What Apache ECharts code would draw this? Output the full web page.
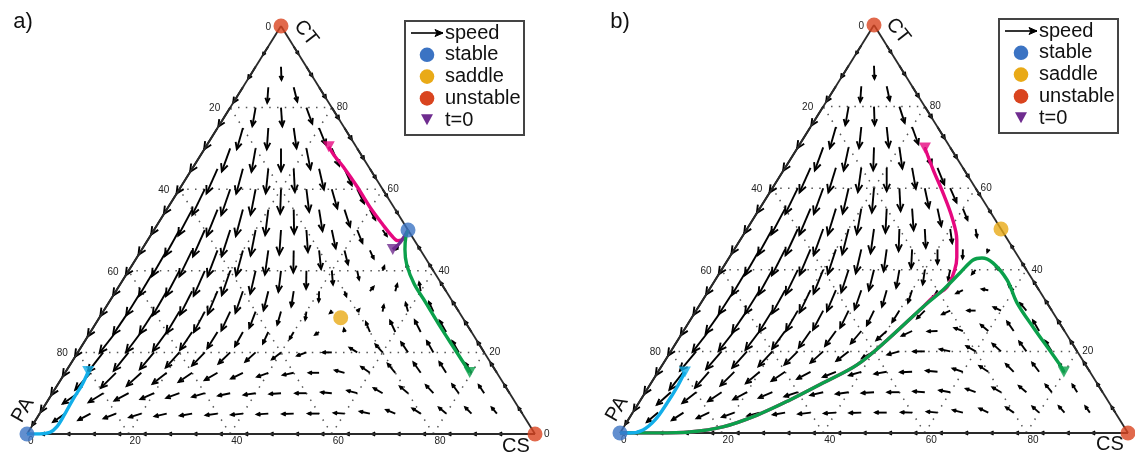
<!DOCTYPE html>
<html><head><meta charset="utf-8">
<script src="https://cdn.jsdelivr.net/npm/echarts/dist/echarts.min.js"></script>
<style>html,body{margin:0;padding:0;background:#fff}#c{width:1135px;height:455px}</style>
</head><body><div id="c"></div>
<script>
// ================= DATA =================
const gridLevels = [20, 40, 60, 80];
const tickLevels = [0, 20, 40, 60, 80];
// vector field: row r -> CT = 100-5r ; column j -> CS = 5j ; angle (deg, screen, ccw from east), speed
const angA = [
 [0],
 [238,302],
 [238,272,302],
 [238,266,284,302],
 [238,260,274,290,302],
 [238,254,266,278,292,302],
 [238,250,260,270,281,293,302],
 [238,246,255,264,273,283,294,302],
 [238,244,251,259,268,277,286,296,302],
 [238,242,248,255,263,271,279,288,298,302],
 [238,241,246,252,259,266,274,282,292,305,0],
 [238,240,244,249,255,262,269,276,284,295,57,122],
 [238,239,242,246,251,257,263,269,275,282,70,100,122],
 [238,238,240,243,247,251,256,261,268,290,50,75,100,122],
 [238,236,237,239,242,245,249,254,262,220,50,80,105,115,122],
 [238,232,233,234,236,238,241,245,240,215,100,112,115,117,120,122],
 [238,232,231,230,228,226,224,222,218,200,180,148,132,124,120,120,122],
 [238,228,225,222,218,214,210,206,200,192,180,165,145,130,125,122,122,122],
 [238,215,212,208,204,200,196,192,188,184,180,175,165,150,140,133,127,124,122],
 [238,215,208,202,197,193,190,188,186,184,182,180,176,168,158,148,140,135,130,122],
 [0,180,180,180,180,180,180,180,180,180,180,180,180,180,180,180,180,180,180,180,0]
];
const spdA = [
 [0],
 [2.5,2.2],
 [3.5,3.2,2.8],
 [4.5,3.8,3.6,3.2],
 [5.5,4.6,4.6,4.2,3.4],
 [6.2,5.4,5.2,5.0,4.4,3.4],
 [6.8,6.0,5.8,5.6,5.2,4.6,3.2],
 [7.2,6.6,6.3,6.0,5.7,5.2,4.4,2.8],
 [7.2,7.0,6.7,6.4,6.0,5.6,4.9,3.8,2.2],
 [7.2,7.2,7.0,6.7,6.3,5.9,5.3,4.4,2.8,1.3],
 [7.2,7.3,7.1,6.8,6.4,6.0,5.4,4.6,3.4,1.8,0],
 [7.2,7.3,7.1,6.8,6.4,6.0,5.4,4.6,3.5,2.2,1.2,1.2],
 [7.2,7.2,7.0,6.7,6.3,5.8,5.2,4.4,3.4,2.2,1.2,1.6,2.0],
 [7.2,7.0,6.8,6.5,6.1,5.6,4.8,3.8,2.5,1.3,1.4,1.8,2.2,2.6],
 [7.2,6.8,6.5,6.2,5.7,5.1,4.3,3.3,2.0,0.6,0.8,1.6,2.2,2.6,3.0],
 [7.2,6.5,6.2,5.8,5.3,4.7,4.0,3.1,2.0,1.2,0.8,2.6,3.0,3.2,3.2,3.2],
 [7.0,6.2,5.8,5.4,5.0,4.5,4.0,3.4,2.8,2.4,2.2,2.2,2.6,3.0,3.2,3.2,3.2],
 [6.5,5.6,5.2,4.8,4.4,4.0,3.6,3.2,2.9,2.7,2.5,2.4,2.6,2.9,3.1,3.1,2.8,3.0],
 [5.5,4.5,4.2,3.9,3.6,3.4,3.2,3.0,2.9,2.8,2.7,2.6,2.5,2.5,2.6,2.7,2.7,2.4,2.6],
 [3.5,3.6,3.4,3.2,3.1,3.0,3.0,2.9,2.9,2.8,2.8,2.7,2.6,2.5,2.4,2.4,2.3,2.2,2.0,1.8],
 [0,2.6,2.6,2.6,2.6,2.6,2.6,2.6,2.6,2.6,2.6,2.6,2.6,2.6,2.6,2.6,2.6,2.6,2.6,2.6,0]
];
const angB = [
 [0],
 [238,302],
 [238,272,302],
 [238,266,282,302],
 [238,260,272,288,302],
 [238,254,264,276,290,302],
 [238,250,258,268,278,291,302],
 [238,246,253,262,270,280,292,302],
 [238,244,250,257,265,273,282,294,302],
 [238,242,247,253,260,267,274,282,292,302],
 [238,241,245,250,256,262,268,273,278,280,0],
 [238,240,243,247,252,257,262,267,270,268,250,122],
 [238,239,241,244,248,252,256,260,262,258,230,160,122],
 [238,237,238,241,244,247,251,254,252,240,205,170,135,122],
 [238,235,236,238,240,242,244,244,238,225,205,180,155,130,122],
 [238,232,232,233,234,235,234,230,222,205,182,160,140,125,120,122],
 [238,230,229,228,227,225,222,218,210,195,180,168,150,138,126,122,122],
 [238,232,229,225,220,214,208,202,196,190,182,175,162,147,135,127,122,122],
 [238,222,218,214,208,203,198,193,188,184,180,176,170,160,150,140,130,122,122],
 [238,220,213,205,200,195,190,187,184,182,180,178,175,166,155,145,138,132,126,122],
 [0,180,180,180,180,180,180,180,180,180,180,180,180,180,180,180,180,180,180,180,0]
];
const spdB = [
 [0],
 [2.5,2.2],
 [3.5,3.2,2.8],
 [4.5,3.8,3.6,3.2],
 [5.5,4.6,4.5,4.2,3.4],
 [6.2,5.4,5.2,5.0,4.5,3.4],
 [6.8,6.0,5.8,5.6,5.2,4.6,3.2],
 [7.2,6.6,6.3,6.0,5.7,5.2,4.4,2.8],
 [7.2,7.0,6.7,6.4,6.0,5.6,4.9,3.8,2.2],
 [7.2,7.2,7.0,6.7,6.3,5.9,5.3,4.4,3.0,1.3],
 [7.2,7.3,7.1,6.8,6.4,6.0,5.4,4.6,3.5,2.0,0],
 [7.2,7.3,7.1,6.8,6.4,6.0,5.4,4.6,3.5,2.2,0.7,1.2],
 [7.2,7.2,7.0,6.7,6.3,5.8,5.2,4.5,3.6,2.5,1.4,1.2,2.0],
 [7.2,7.0,6.8,6.5,6.1,5.6,5.0,4.2,3.2,2.4,1.8,1.6,1.8,2.6],
 [7.2,6.8,6.5,6.2,5.8,5.3,4.7,4.0,3.3,2.7,2.2,2.0,2.0,2.4,3.0],
 [7.2,6.5,6.2,5.8,5.4,5.0,4.5,4.0,3.4,2.8,2.4,2.2,2.4,2.8,3.0,3.2],
 [7.0,6.2,5.8,5.4,5.0,4.6,4.2,3.8,3.4,3.0,2.8,2.6,2.6,2.8,3.0,3.0,3.2],
 [6.5,5.6,5.2,4.8,4.4,4.0,3.7,3.4,3.1,3.0,2.9,2.8,2.6,2.6,2.7,2.8,2.6,3.0],
 [5.5,4.6,4.3,4.0,3.8,3.6,3.4,3.2,3.1,3.0,2.9,2.8,2.7,2.5,2.4,2.4,2.4,2.2,2.6],
 [3.5,3.6,3.4,3.3,3.2,3.1,3.0,3.0,2.9,2.9,2.8,2.7,2.6,2.5,2.4,2.3,2.2,2.1,1.9,1.8],
 [0,2.6,2.6,2.6,2.6,2.6,2.6,2.6,2.6,2.6,2.6,2.6,2.6,2.6,2.6,2.6,2.6,2.6,2.6,2.6,0]
];
// trajectories: [CS %, CT %]  (PA = 100 - CS - CT)
const magentaA = [[24.2,70.4],[26.2,68.4],[29.5,65.5],[34.7,60.6],[39.6,55.7],[44.4,51.3],[47.5,48.6],[49.3,47.4],[50.2,48],[50,50]];
const purpleA  = [[49.4,45.2],[50,47],[50,50]];
const greenA   = [[79.6,15.1],[73.9,20.7],[68.2,26.3],[62.2,32.4],[57.8,36.8],[54,41.5],[51.8,45.2],[50.5,48.1],[50,50]];
const cyanA    = [[4.4,15.3],[4.8,12.1],[4.8,8.5],[5,4.8],[5,1.8],[4.3,0.4],[2.5,0],[0,0]];
const magentaB = [[25.1,69.85],[29.4,64.5],[34.2,58.8],[38.9,52.9],[42.65,47.3],[44.75,43.1],[45.9,39.95],[46.5,35.8],[45,33.3],[44.2,30.9],[41.2,22.8],[38.3,16.7],[33.8,12.25],[29.4,8.1],[24.8,4.4],[19.5,1.5],[13.6,0.25],[7.3,0],[0,0]];
const greenB   = [[79.9,14.95],[78.25,16.7],[68.3,26],[62.2,31.9],[57.45,37.5],[52.55,41.7],[49.8,42.9],[48.3,42.4],[47.3,39.2],[46.05,35.05],[44.2,30.9],[41.2,22.8],[38.3,16.7],[33.8,12.25],[29.4,8.1],[24.8,4.4],[19.5,1.5],[13.6,0.25],[7.3,0],[0,0]];
const cyanB    = [[5.3,14.95],[5.6,11.3],[5.6,7.35],[5.3,3.2],[4.15,0.75],[2,0],[0,0]];
// equilibria [CS, CT]
const stableA = [[0,0],[50,50]], saddleA = [[47.5,28.5]], unstableA = [[0,100],[100,0]];
const stableB = [[0,0]], saddleB = [[50,50]], unstableB = [[0,100],[100,0]];
const legendItems = ['speed','stable','saddle','unstable','t=0'];

// ================= BUILD =================
const C = {blue:'#3B73C3', yellow:'#E9AA17', red:'#D9441F', purple:'#6F2C8F',
           magenta:'#E6087F', green:'#0BA04B', cyan:'#12AEE9'};
const FONT = '"Liberation Sans", Arial, Helvetica, sans-serif';
function tern(cs, ct){ return [cs + ct/2, ct]; }

function fieldData(ang, spd){
  const out = [];
  for (let r = 0; r < ang.length; r++) for (let j = 0; j < ang[r].length; j++) {
    if (!spd[r][j]) continue;
    const p = tern(5*j, 100 - 5*r);
    out.push([p[0], p[1], ang[r][j], spd[r][j]]);
  }
  return out;
}
function arrowItem(params, api){
  const base = api.coord([api.value(0), api.value(1)]);
  const unit = api.size([1,1]);
  const a = api.value(2) * Math.PI / 180;
  const L = api.value(3) * unit[1];
  const tip = [base[0] + L*Math.cos(a), base[1] - L*Math.sin(a)];
  const h = Math.max(3.5, Math.min(8.5, 0.34*L));
  const w = 25*Math.PI/180, back = a + Math.PI;
  const w1 = [tip[0] + h*Math.cos(back+w), tip[1] - h*Math.sin(back+w)];
  const w2 = [tip[0] + h*Math.cos(back-w), tip[1] - h*Math.sin(back-w)];
  return {type:'group', children:[
    {type:'line', shape:{x1:base[0],y1:base[1],x2:tip[0],y2:tip[1]}, style:{stroke:'#000', lineWidth:1.9}},
    {type:'polyline', shape:{points:[w1,tip,w2]}, style:{stroke:'#000', lineWidth:1.9, fill:null, lineJoin:'miter'}}
  ]};
}
function segItem(style){
  return function(params, api){
    const a = api.coord([api.value(0), api.value(1)]), b = api.coord([api.value(2), api.value(3)]);
    return {type:'line', shape:{x1:a[0],y1:a[1],x2:b[0],y2:b[1]}, style:style};
  };
}
function tickItem(params, api){
  const p = api.coord([api.value(0), api.value(1)]);
  const side = api.value(3), k = api.value(2);
  let x = p[0], y = p[1], align = 'left', va = 'middle';
  if (side === 0) { x -= 10; align = 'right'; y += 1; }
  else if (side === 1) { x += (k === 0 ? 9 : 5); }
  else { y += 2; va = 'top'; x += 1; }
  return {type:'text', x:x, y:y, style:{text:String(k), font:'10px ' + FONT, fill:'#222',
    align:align, verticalAlign:va, textAlign:align, textVerticalAlign:va}};
}

function panelSeries(idx, ang, spd, trajs, stable, saddle, unstable){
  const ax = {xAxisIndex:idx, yAxisIndex:idx};
  const lines = [];
  gridLevels.forEach(k => {
    lines.push(tern(0,k).concat(tern(100-k,k)));
    lines.push(tern(k,0).concat(tern(k,100-k)));
    lines.push(tern(100-k,0).concat(tern(0,100-k)));
  });
  const edges = [tern(0,100).concat(tern(0,0)), tern(0,0).concat(tern(100,0)), tern(100,0).concat(tern(0,100))];
  const ticks = [];
  tickLevels.forEach(k => {
    ticks.push(tern(0,100-k).concat([k,0]));
    ticks.push(tern(100-k,k).concat([k,1]));
    ticks.push(tern(k,0).concat([k,2]));
  });
  const s = [
    Object.assign({type:'custom', data:lines, renderItem:segItem({stroke:'#555', lineWidth:1.5, lineDash:[1.5,6.3]}), clip:false, z:1, silent:true}, ax),
    Object.assign({type:'custom', data:fieldData(ang, spd), renderItem:arrowItem, clip:false, z:2, silent:true}, ax),
    Object.assign({type:'custom', data:edges, renderItem:segItem({stroke:'#2a2a2a', lineWidth:1.8}), clip:false, z:3, silent:true}, ax),
    Object.assign({type:'custom', data:ticks, renderItem:tickItem, clip:false, z:3, silent:true}, ax)
  ];
  trajs.forEach(t => {
    const d = t.data.map(q => tern(q[0], q[1]));
    s.push(Object.assign({type:'line', data:d, smooth:0.35, showSymbol:false, symbol:'none',
      lineStyle:{color:t.color, width:3.4}, z:5, silent:true}, ax));
    s.push(Object.assign({type:'scatter', data:[d[0]], symbol:'triangle', symbolRotate:180, symbolSize:[12,11],
      itemStyle:{color:t.marker || t.color}, z:6, silent:true}, ax));
  });
  [[stable, C.blue],[saddle, C.yellow],[unstable, C.red]].forEach(e => {
    s.push(Object.assign({type:'scatter', data:e[0].map(q => tern(q[0], q[1])), symbol:'circle', symbolSize:15,
      itemStyle:{color:e[1]}, z:7, silent:true}, ax));
  });
  return s;
}

function legendGraphic(x0, y0){
  const g = [];
  g.push({type:'rect', shape:{x:x0, y:y0, width:119, height:114}, style:{fill:'#fff', stroke:'#444', lineWidth:2}, z:20});
  const ay = y0 + 12;
  g.push({type:'line', shape:{x1:x0+6, y1:ay, x2:x0+38, y2:ay}, style:{stroke:'#000', lineWidth:1.6}, z:21});
  g.push({type:'polygon', shape:{points:[[x0+38,ay],[x0+30,ay-3.5],[x0+32,ay],[x0+30,ay+3.5]]}, style:{fill:'#000', stroke:'#000', lineWidth:1}, z:21});
  const cols = [null, C.blue, C.yellow, C.red, C.purple];
  legendItems.forEach((t, i) => {
    const y = y0 + 12 + i*21.8;
    g.push({type:'text', x:x0+40, y:y, style:{text:t, font:'20px ' + FONT, fill:'#111', verticalAlign:'middle', textVerticalAlign:'middle'}, z:21});
    if (i >= 1 && i <= 3) g.push({type:'circle', shape:{cx:x0+22, cy:y, r:7.3}, style:{fill:cols[i]}, z:21});
    if (i === 4) g.push({type:'polygon', shape:{points:[[x0+16,y-6],[x0+28,y-6],[x0+22,y+5]]}, style:{fill:cols[i]}, z:21});
  });
  return g;
}
function label(text, x, y, size, rotDeg){
  return {type:'text', x:x, y:y, rotation:(rotDeg||0)*Math.PI/180,
    style:{text:text, font:size + 'px ' + FONT, fill:'#111', align:'center', verticalAlign:'middle', textAlign:'center', textVerticalAlign:'middle'}, z:22};
}

const graphic = [].concat(
  legendGraphic(405, 21), legendGraphic(999, 19),
  [label('a)', 23, 22, 22), label('b)', 620, 22, 22),
   label('CT', 306, 33, 20, -52), label('PA', 23, 410, 20, 60), label('CS', 516, 446, 20),
   label('CT', 898, 31, 20, -52), label('PA', 617, 409, 20, 60), label('CS', 1110, 444, 20)]
);

const series = [].concat(
  panelSeries(0, angA, spdA, [
    {data:magentaA, color:C.magenta}, {data:purpleA, color:C.purple},
    {data:greenA, color:C.green}, {data:cyanA, color:C.cyan}], stableA, saddleA, unstableA),
  panelSeries(1, angB, spdB, [
    {data:magentaB, color:C.magenta}, {data:greenB, color:C.green},
    {data:cyanB, color:C.cyan}], stableB, saddleB, unstableB)
);

const hiddenAxis = {type:'value', min:0, max:100, show:false};
const chart = echarts.init(document.getElementById('c'));
chart.setOption({
  animation:false,
  backgroundColor:'#fff',
  grid:[{left:27, top:26, width:508, height:408}, {left:620, top:25, width:508, height:408}],
  xAxis:[Object.assign({gridIndex:0}, hiddenAxis), Object.assign({gridIndex:1}, hiddenAxis)],
  yAxis:[Object.assign({gridIndex:0}, hiddenAxis), Object.assign({gridIndex:1}, hiddenAxis)],
  graphic:graphic,
  series:series
});
</script>
</body></html>
